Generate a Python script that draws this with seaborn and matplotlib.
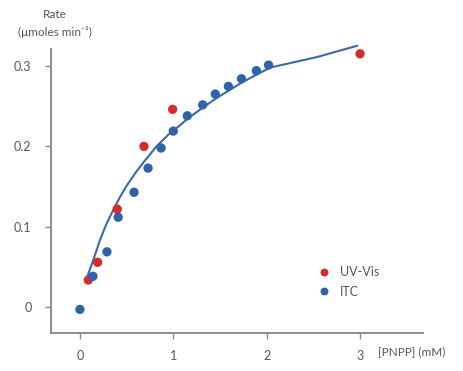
import matplotlib
matplotlib.use("Agg")
import matplotlib.pyplot as plt
import seaborn as sns
import pandas as pd

# ITC data
itc_x = [0.0, 0.14, 0.29, 0.41, 0.58, 0.73, 0.87, 1.0, 1.15, 1.315, 1.45, 1.59, 1.73, 1.89, 2.02]
itc_y = [-0.0025, 0.0386, 0.069, 0.112, 0.143, 0.173, 0.198, 0.219, 0.238, 0.2516, 0.265, 0.2745, 0.284, 0.294, 0.301]
# UV-Vis data
uv_x = [0.09, 0.19, 0.40, 0.686, 0.993, 3.0]
uv_y = [0.034, 0.056, 0.122, 0.200, 0.246, 0.315]
# fitted curve
fit_x = [0.064, 0.143, 0.214, 0.286, 0.357, 0.429, 0.50, 0.607, 0.68, 0.82, 0.96,
         1.07, 1.15, 1.315, 1.45, 1.59, 1.73, 1.89, 2.04, 2.54, 2.97]
fit_y = [0.0336, 0.0585, 0.0834, 0.104, 0.121, 0.137, 0.151, 0.169, 0.180, 0.200, 0.216,
         0.226, 0.234, 0.248, 0.259, 0.269, 0.279, 0.289, 0.298, 0.311, 0.325]

series_names = ["UV-Vis", "ITC"]
xticks = [0, 1, 2, 3]
xtick_labels = ["0", "1", "2", "3"]
yticks = [0, 0.1, 0.2, 0.3]
ytick_labels = ["0", "0.1", "0.2", "0.3"]

sns.set_style("white")
plt.rcParams["font.family"] = ["Lato", "DejaVu Sans"]

RED = "#d62b2b"
BLUE = "#2f62a6"
GREY = "#8a8a8a"
TXT = "#555555"

df = pd.DataFrame({
    "x": uv_x + itc_x,
    "y": uv_y + itc_y,
    "series": [series_names[0]] * len(uv_x) + [series_names[1]] * len(itc_x),
})
fit_df = pd.DataFrame({"x": fit_x, "y": fit_y})

fig = plt.figure(figsize=(4.63, 3.71), dpi=100)
ax = fig.add_axes([0.110, 0.102, 0.804, 0.766])

sns.lineplot(data=fit_df, x="x", y="y", ax=ax, color="#3b69a6", linewidth=1.5,
             sort=True, estimator=None, zorder=2, clip_on=False)
sns.scatterplot(data=df, x="x", y="y", hue="series", hue_order=series_names,
                palette={series_names[0]: RED, series_names[1]: BLUE},
                s=45, edgecolor="none", ax=ax, zorder=3, clip_on=False)

ax.set_xlim(-0.31, 3.676)
ax.set_ylim(-0.032, 0.321)
ax.set_xticks(xticks)
ax.set_xticklabels(xtick_labels)
ax.set_yticks(yticks)
ax.set_yticklabels(ytick_labels)
ax.set_xlabel("")
ax.set_ylabel("")

for side in ["top", "right"]:
    ax.spines[side].set_visible(False)
for side in ["left", "bottom"]:
    ax.spines[side].set_color(GREY)
    ax.spines[side].set_linewidth(1.4)

ax.tick_params(axis="both", which="major", direction="out", length=4, width=1.0,
               color=GREY, labelcolor=TXT, labelsize=9, left=True, bottom=True)
ax.tick_params(axis="y", pad=10)
ax.tick_params(axis="x", pad=8)

# legend
leg = ax.legend(loc="upper left", bbox_to_anchor=(306 / 463, 1 - 261 / 371),
                bbox_transform=fig.transFigure, frameon=False, fontsize=9,
                handletextpad=0.3, labelspacing=0.6, borderaxespad=0,
                markerscale=0.85)
for t in leg.get_texts():
    t.set_color(TXT)

# axis labels
fig.text(55 / 463, 1 - 15 / 371, "Rate", ha="center", va="center", fontsize=8.5, color=TXT)
fig.text(55 / 463, 1 - 32 / 371, "(\u03bcmoles min\u207b\u00b9)", ha="center", va="center",
         fontsize=8.5, color=TXT)
fig.text(378 / 463, 1 - 352 / 371, "[PNPP] (mM)", ha="left", va="center", fontsize=8.5, color=TXT)

fig.savefig("out.png", dpi=100, facecolor="white")
